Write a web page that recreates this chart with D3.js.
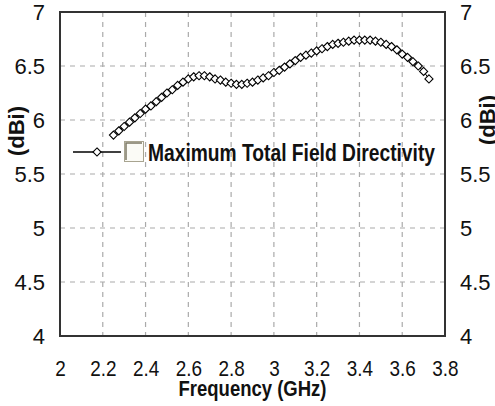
<!DOCTYPE html>
<html>
<head>
<meta charset="utf-8">
<script src="https://cdn.jsdelivr.net/npm/d3@7"></script>
<style>
  html, body { margin: 0; padding: 0; background: #fff; }
  svg { display: block; }
  .tick-label { font-family: "Liberation Sans", Arial, sans-serif; font-size: 22px; fill: #111; }
  .title { font-family: "Liberation Sans", Arial, sans-serif; font-weight: bold; fill: #111; }
</style>
</head>
<body>
<svg id="chart" width="495" height="406"></svg>
<script>
// Frequency sweep (GHz)
const frequency = [
  2.250, 2.275, 2.300, 2.325, 2.350, 2.375, 2.400, 2.425, 2.450, 2.475,
  2.500, 2.525, 2.550, 2.575, 2.600, 2.625, 2.650, 2.675, 2.700, 2.725,
  2.750, 2.775, 2.800, 2.825, 2.850, 2.875, 2.900, 2.925, 2.950, 2.975,
  3.000, 3.025, 3.050, 3.075, 3.100, 3.125, 3.150, 3.175, 3.200, 3.225,
  3.250, 3.275, 3.300, 3.325, 3.350, 3.375, 3.400, 3.425, 3.450, 3.475,
  3.500, 3.525, 3.550, 3.575, 3.600, 3.625, 3.650, 3.675, 3.700, 3.725
];
// Maximum total field directivity (dBi)
const directivity = [
  5.86, 5.90, 5.94, 5.98, 6.02, 6.06, 6.10, 6.13, 6.17, 6.21,
  6.25, 6.28, 6.32, 6.35, 6.38, 6.40, 6.41, 6.41, 6.40, 6.38,
  6.37, 6.35, 6.34, 6.33, 6.33, 6.34, 6.35, 6.37, 6.39, 6.41,
  6.44, 6.46, 6.49, 6.52, 6.55, 6.58, 6.60, 6.62, 6.64, 6.66,
  6.68, 6.70, 6.71, 6.72, 6.73, 6.74, 6.74, 6.74, 6.74, 6.73,
  6.72, 6.70, 6.68, 6.65, 6.61, 6.58, 6.54, 6.50, 6.45, 6.38
];
const xTicks = [2, 2.2, 2.4, 2.6, 2.8, 3, 3.2, 3.4, 3.6, 3.8];
const yTicks = [4, 4.5, 5, 5.5, 6, 6.5, 7];
const seriesName = "Maximum Total Field Directivity";

const margin = { left: 60, top: 12, right: 50, bottom: 70 };
const W = 495, H = 406;
const pw = W - margin.left - margin.right;   // 385
const ph = H - margin.top - margin.bottom;   // 324

const svg = d3.select("#chart");
const g = svg.append("g").attr("transform", `translate(${margin.left},${margin.top})`);

const x = d3.scaleLinear().domain([2, 3.8]).range([0, pw]);
const y = d3.scaleLinear().domain([4, 7]).range([ph, 0]);

// dashed grid
g.append("g").selectAll("line")
  .data(xTicks.slice(1, -1)).join("line")
  .attr("x1", d => x(d)).attr("x2", d => x(d))
  .attr("y1", 0).attr("y2", ph)
  .attr("stroke", "#aaaaaa").attr("stroke-width", 1.2).attr("stroke-dasharray", "5,5");
g.append("g").selectAll("line")
  .data(yTicks.slice(1, -1)).join("line")
  .attr("x1", 0).attr("x2", pw)
  .attr("y1", d => y(d)).attr("y2", d => y(d))
  .attr("stroke", "#aaaaaa").attr("stroke-width", 1.2).attr("stroke-dasharray", "5,5");

// frame
g.append("rect").attr("x", 0).attr("y", 0).attr("width", pw).attr("height", ph)
  .attr("fill", "none").attr("stroke", "#333").attr("stroke-width", 2);

// axes (labels only; frame drawn above)
const fmt = d3.format("~g");
const xAxis = d3.axisBottom(x).tickValues(xTicks).tickSize(0).tickPadding(24).tickFormat(fmt);
const yAxisL = d3.axisLeft(y).tickValues(yTicks).tickSize(0).tickPadding(15).tickFormat(fmt);
const yAxisR = d3.axisRight(y).tickValues(yTicks).tickSize(0).tickPadding(15).tickFormat(fmt);

function styleAxis(sel) {
  sel.select(".domain").remove();
  sel.selectAll("text").attr("class", "tick-label").attr("fill", null)
    .attr("font-size", null).attr("font-family", null);
}
const gx = g.append("g").attr("transform", `translate(0,${ph})`).call(xAxis).call(styleAxis);
// condensed look for the frequency labels
gx.selectAll(".tick text").attr("transform", "scale(0.86,1)");
g.append("g").call(yAxisL).call(styleAxis);
g.append("g").attr("transform", `translate(${pw},0)`).call(yAxisR).call(styleAxis);

// series line + diamond markers
const line = d3.line().x((d, i) => x(frequency[i])).y(d => y(d));
g.append("path").datum(directivity)
  .attr("d", line).attr("fill", "none").attr("stroke", "#000").attr("stroke-width", 1);

const diamond = d3.symbol().type(d3.symbolDiamond2).size(42);
g.append("g").selectAll("path")
  .data(directivity).join("path")
  .attr("transform", (d, i) => `translate(${x(frequency[i])},${y(d)})`)
  .attr("d", diamond)
  .attr("fill", "#fff").attr("stroke", "#000").attr("stroke-width", 1.1);

// axis titles
svg.append("text").attr("class", "title")
  .attr("x", margin.left + pw / 2).attr("y", 396)
  .attr("text-anchor", "middle").attr("font-size", 22)
  .attr("textLength", 148).attr("lengthAdjust", "spacingAndGlyphs")
  .text("Frequency (GHz)");
svg.append("text").attr("class", "title")
  .attr("transform", "translate(24,131) rotate(-90)")
  .attr("text-anchor", "middle").attr("font-size", 22)
  .text("(dBi)");
svg.append("text").attr("class", "title")
  .attr("transform", "translate(495,120) rotate(-90)")
  .attr("text-anchor", "middle").attr("font-size", 22)
  .text("(dBi)");

// legend
const lg = svg.append("g");
lg.append("line").attr("x1", 73).attr("x2", 121).attr("y1", 152).attr("y2", 152)
  .attr("stroke", "#000").attr("stroke-width", 1.5);
lg.append("path").attr("transform", "translate(97,152)").attr("d", diamond)
  .attr("fill", "#fff").attr("stroke", "#000").attr("stroke-width", 1.1);
lg.append("rect").attr("x", 124.5).attr("y", 141.5).attr("width", 19).attr("height", 20)
  .attr("fill", "#fbfbf6").attr("stroke", "#a8a490").attr("stroke-width", 1);
lg.append("path").attr("d", "M126,160 V143 H142")
  .attr("fill", "none").attr("stroke", "#7c7864").attr("stroke-width", 1.5);
lg.append("text").attr("class", "title")
  .attr("x", 148).attr("y", 161).attr("font-size", 23)
  .attr("textLength", 287).attr("lengthAdjust", "spacingAndGlyphs")
  .text(seriesName);
</script>
</body>
</html>
